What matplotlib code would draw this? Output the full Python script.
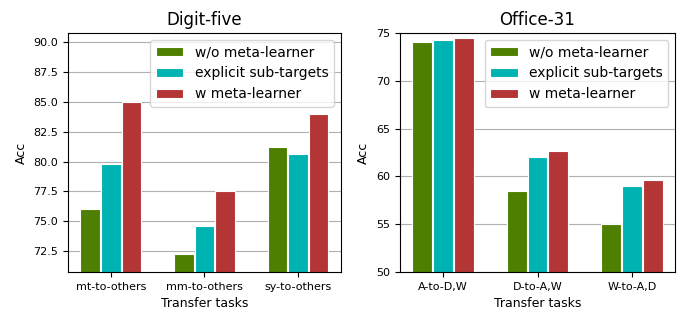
import matplotlib
matplotlib.use("Agg")
import matplotlib.pyplot as plt
import numpy as np

series_names = ["w/o meta-learner", "explicit sub-targets", "w meta-learner"]
colors = ["#4e7f00", "#00b3b3", "#b33535"]

digit_tasks = ["mt-to-others", "mm-to-others", "sy-to-others"]
digit_wo = [76.0, 72.25, 81.25]
digit_explicit = [79.8, 74.6, 80.65]
digit_w = [85.0, 77.5, 84.0]

office_tasks = ["A-to-D,W", "D-to-A,W", "W-to-A,D"]
office_wo = [74.0, 58.5, 55.0]
office_explicit = [74.2, 62.0, 59.0]
office_w = [74.5, 62.7, 59.6]

fig = plt.figure(figsize=(6.94, 3.22), dpi=100)
ax1 = fig.add_axes([0.098, 0.155, 0.393, 0.743])
ax2 = fig.add_axes([0.576, 0.155, 0.397, 0.743])

def draw(ax, tasks, vals, title, ylim, yticks):
    x = np.arange(len(tasks))
    offs = [-0.22, 0.0, 0.22]
    for v, o, c, n in zip(vals, offs, colors, series_names):
        ax.bar(x + o, v, width=0.21, color=c, edgecolor="white", linewidth=0.8, label=n)
    ax.set_xticks(x)
    ax.set_xticklabels(tasks, fontsize=8)
    ax.set_ylim(*ylim)
    ax.set_yticks(yticks)
    ax.tick_params(axis="y", labelsize=8)
    ax.set_xlabel("Transfer tasks", fontsize=9)
    ax.set_ylabel("Acc", fontsize=9)
    ax.set_title(title, fontsize=12)
    ax.yaxis.grid(True, color="#b0b0b0", linewidth=0.8)
    ax.set_axisbelow(True)
    ax.legend(loc="upper right", fontsize=10)

draw(ax1, digit_tasks, [digit_wo, digit_explicit, digit_w], "Digit-five",
     (70.75, 90.78), [72.5, 75.0, 77.5, 80.0, 82.5, 85.0, 87.5, 90.0])
ax1.yaxis.set_major_formatter(matplotlib.ticker.FormatStrFormatter("%.1f"))
draw(ax2, office_tasks, [office_wo, office_explicit, office_w], "Office-31",
     (50, 75), [50, 55, 60, 65, 70, 75])

fig.savefig("out.png", dpi=100)
